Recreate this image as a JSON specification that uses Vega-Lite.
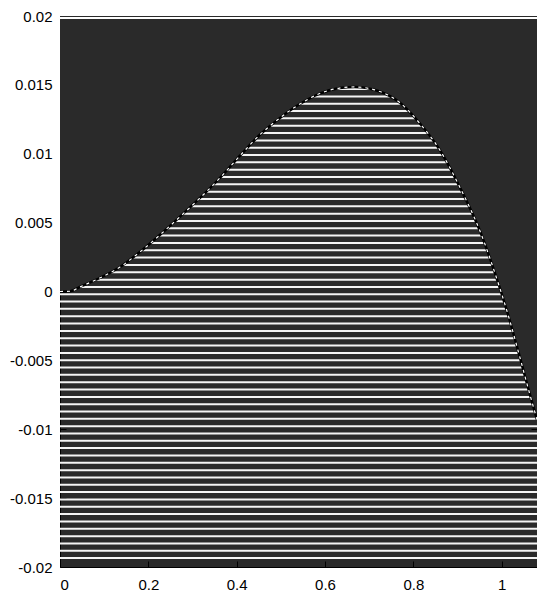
{
  "$schema": "https://vega.github.io/schema/vega-lite/v6.json",
  "width": 477,
  "height": 551,
  "autosize": {"type": "none"},
  "padding": {"left": 60, "top": 16, "right": 0, "bottom": 25},
  "background": "white",
  "config": {
    "view": {"stroke": "black", "strokeWidth": 1, "fill": "#2a2a2a"},
    "axis": {
      "labelFont": "Liberation Sans",
      "labelFontSize": 15,
      "labelColor": "black",
      "domain": false,
      "grid": false,
      "tickColor": "black",
      "tickSize": -6,
      "tickWidth": 1,
      "title": null
    }
  },
  "datasets": {
    "curve": [
      {"x": 0, "y": 0},
      {"x": 0.023, "y": 0.00002},
      {"x": 0.045, "y": 0.00033},
      {"x": 0.09, "y": 0.00098},
      {"x": 0.136, "y": 0.00178},
      {"x": 0.181, "y": 0.00287},
      {"x": 0.226, "y": 0.0041},
      {"x": 0.271, "y": 0.00541},
      {"x": 0.317, "y": 0.00679},
      {"x": 0.362, "y": 0.00824},
      {"x": 0.407, "y": 0.00984},
      {"x": 0.452, "y": 0.01136},
      {"x": 0.498, "y": 0.0126},
      {"x": 0.543, "y": 0.01361},
      {"x": 0.588, "y": 0.01437},
      {"x": 0.633, "y": 0.01477},
      {"x": 0.667, "y": 0.01485},
      {"x": 0.724, "y": 0.01452},
      {"x": 0.769, "y": 0.01372},
      {"x": 0.814, "y": 0.01223},
      {"x": 0.86, "y": 0.01027},
      {"x": 0.905, "y": 0.00759},
      {"x": 0.95, "y": 0.00446},
      {"x": 0.995, "y": 0.00033},
      {"x": 1.018, "y": -0.00207},
      {"x": 1.041, "y": -0.00475},
      {"x": 1.063, "y": -0.00737},
      {"x": 1.08, "y": -0.0093}
    ],
    "hatch": [
      {"y": 0.0147}, {"y": 0.01416}, {"y": 0.01363}, {"y": 0.0131}, {"y": 0.01257},
      {"y": 0.01204}, {"y": 0.0115}, {"y": 0.01097}, {"y": 0.01044}, {"y": 0.00991},
      {"y": 0.00938}, {"y": 0.00884}, {"y": 0.00831}, {"y": 0.00778}, {"y": 0.00725},
      {"y": 0.00672}, {"y": 0.00618}, {"y": 0.00565}, {"y": 0.00512}, {"y": 0.00459},
      {"y": 0.00406}, {"y": 0.00352}, {"y": 0.00299}, {"y": 0.00246}, {"y": 0.00193},
      {"y": 0.0014}, {"y": 0.00086}, {"y": 0.00033}, {"y": -0.0002}, {"y": -0.00073},
      {"y": -0.00126}, {"y": -0.0018}, {"y": -0.00233}, {"y": -0.00286}, {"y": -0.00339},
      {"y": -0.00392}, {"y": -0.00446}, {"y": -0.00499}, {"y": -0.00552}, {"y": -0.00605},
      {"y": -0.00658}, {"y": -0.00712}, {"y": -0.00765}, {"y": -0.00818}, {"y": -0.00871},
      {"y": -0.00924}, {"y": -0.00978}, {"y": -0.01031}, {"y": -0.01084}, {"y": -0.01137},
      {"y": -0.0119}, {"y": -0.01244}, {"y": -0.01297}, {"y": -0.0135}, {"y": -0.01403},
      {"y": -0.01456}, {"y": -0.0151}, {"y": -0.01563}, {"y": -0.01616}, {"y": -0.01669},
      {"y": -0.01722}, {"y": -0.01776}, {"y": -0.01829}, {"y": -0.01882}, {"y": -0.01935}
    ]
  },
  "resolve": {"axis": {"x": "independent", "y": "independent"}},
  "layer": [
    {
      "data": {"name": "hatch"},
      "mark": {"type": "rule", "color": "#f4f4f4", "strokeWidth": 2, "clip": true},
      "encoding": {
        "y": {
          "field": "y", "type": "quantitative",
          "scale": {"domain": [-0.02, 0.02], "nice": false, "zero": false},
          "axis": {"orient": "left", "values": [-0.02, -0.015, -0.01, -0.005, 0, 0.005, 0.01, 0.015, 0.02], "labelPadding": 14, "labelExpr": "replace(format(datum.value, '.3~f'), '\u2212', '-')"}
        }
      }
    },
    {
      "data": {"name": "curve"},
      "mark": {"type": "area", "color": "#2a2a2a", "opacity": 1, "clip": true, "interpolate": "monotone"},
      "encoding": {
        "x": {
          "field": "x", "type": "quantitative",
          "scale": {"domain": [0, 1.08], "nice": false, "zero": false},
          "axis": {"orient": "bottom", "values": [0, 0.2, 0.4, 0.6, 0.8, 1], "labelPadding": 16, "labelExpr": "format(datum.value, '.1~f')"}
        },
        "y": {"field": "y", "type": "quantitative", "axis": {"orient": "right", "labels": false, "values": [-0.02, -0.015, -0.01, -0.005, 0, 0.005, 0.01, 0.015, 0.02]}},
        "y2": {"datum": 0.02}
      }
    },
    {
      "data": {"name": "curve"},
      "mark": {"type": "line", "color": "black", "strokeWidth": 2.5, "clip": true, "interpolate": "monotone"},
      "encoding": {
        "x": {"field": "x", "type": "quantitative", "axis": {"orient": "top", "labels": false, "values": [0, 0.2, 0.4, 0.6, 0.8, 1]}},
        "y": {"field": "y", "type": "quantitative", "axis": null}
      }
    },
    {
      "data": {"name": "curve"},
      "mark": {"type": "line", "color": "white", "strokeWidth": 1.2, "strokeDash": [3, 4], "clip": true, "interpolate": "monotone"},
      "encoding": {
        "x": {"field": "x", "type": "quantitative", "axis": null},
        "y": {"field": "y", "type": "quantitative", "axis": null}
      }
    },
    {
      "data": {"values": [{}]},
      "mark": {"type": "rule", "color": "white", "strokeWidth": 2, "yOffset": 2},
      "encoding": {
        "y": {"datum": 0.02, "type": "quantitative", "axis": null}
      }
    }
  ]
}
